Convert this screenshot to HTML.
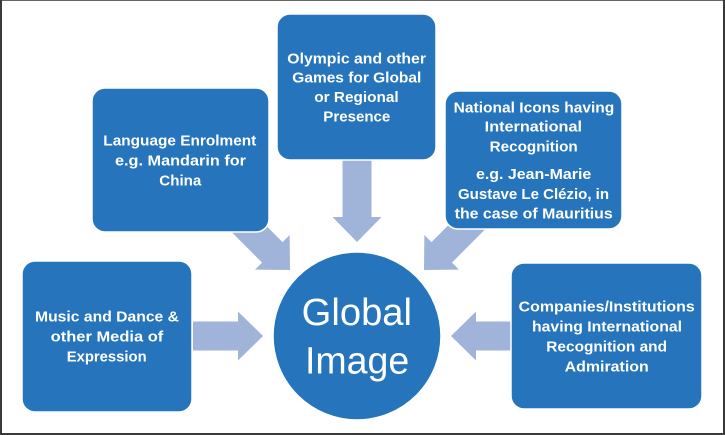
<!DOCTYPE html>
<html>
<head>
<meta charset="utf-8">
<style>
html,body{margin:0;padding:0;background:#fff;}
svg{display:block;}
text{font-family:"Liberation Sans",Arial,sans-serif;fill:#fff;}
.b{font-weight:bold;font-size:15px;}
.c{font-size:38px;}
</style>
</head>
<body>
<svg width="725" height="435" viewBox="0 0 725 435" xmlns="http://www.w3.org/2000/svg">
<rect x="0" y="0" width="725" height="435" fill="#fff"/>
<!-- frame -->
<rect x="0" y="0" width="725" height="1" fill="#666"/>
<rect x="0" y="0" width="2" height="435" fill="#3a3a3a"/>
<rect x="723" y="0" width="2" height="435" fill="#3a3a3a"/>
<rect x="0" y="433" width="725" height="2" fill="#3a3a3a"/>

<!-- arrows -->
<g fill="#a0b4da">
  <polygon transform="translate(263,336)" points="-70,-14.5 -25,-14.5 -25,-24.5 0,0 -25,24.5 -25,14.5 -70,14.5"/>
  <polygon transform="translate(451,336) rotate(180)" points="-70,-14.5 -25,-14.5 -25,-24.5 0,0 -25,24.5 -25,14.5 -70,14.5"/>
  <polygon transform="translate(357,242) rotate(90)" points="-82,-14.5 -25,-14.5 -25,-24.5 0,0 -25,24.5 -25,14.5 -82,14.5"/>
  <polygon transform="translate(290,270) rotate(45)" points="-80,-14.5 -25,-14.5 -25,-24.5 0,0 -25,24.5 -25,14.5 -80,14.5"/>
  <polygon transform="translate(424,270) rotate(135)" points="-80,-14.5 -25,-14.5 -25,-24.5 0,0 -25,24.5 -25,14.5 -80,14.5"/>
</g>

<!-- boxes -->
<g fill="#2674bc" stroke="#fff" stroke-width="1.5">
  <rect x="92" y="88" width="177" height="144" rx="13"/>
  <rect x="277" y="14" width="159" height="146" rx="13"/>
  <rect x="445" y="91" width="177" height="138" rx="13"/>
  <rect x="22" y="261" width="170" height="151" rx="13"/>
  <rect x="511" y="263" width="191" height="146" rx="13"/>
  <circle cx="357" cy="336" r="84"/>
</g>

<!-- Language box -->
<g class="b">
  <text x="103.3" y="145.7" textLength="153" lengthAdjust="spacingAndGlyphs">Language Enrolment</text>
  <text x="115" y="165.7" textLength="131" lengthAdjust="spacingAndGlyphs">e.g. Mandarin for</text>
  <text x="159.3" y="185.3" textLength="42" lengthAdjust="spacingAndGlyphs">China</text>
</g>

<!-- Olympic box -->
<g class="b">
  <text x="287.3" y="63.3" textLength="138.7" lengthAdjust="spacingAndGlyphs">Olympic and other</text>
  <text x="292.3" y="82.7" textLength="129" lengthAdjust="spacingAndGlyphs">Games for Global</text>
  <text x="314.3" y="102" textLength="84.4" lengthAdjust="spacingAndGlyphs">or Regional</text>
  <text x="323.3" y="121.7" textLength="67" lengthAdjust="spacingAndGlyphs">Presence</text>
</g>

<!-- National icons box -->
<g class="b">
  <text x="453.7" y="112.3" textLength="160.6" lengthAdjust="spacingAndGlyphs">National Icons having</text>
  <text x="484.7" y="131.7" textLength="97.3" lengthAdjust="spacingAndGlyphs">International</text>
  <text x="489.7" y="151.3" textLength="88" lengthAdjust="spacingAndGlyphs">Recognition</text>
  <text x="476" y="179" textLength="115.3" lengthAdjust="spacingAndGlyphs">e.g. Jean-Marie</text>
  <text x="458" y="199" textLength="151" lengthAdjust="spacingAndGlyphs">Gustave Le Clézio, in</text>
  <text x="454.7" y="218.3" textLength="158" lengthAdjust="spacingAndGlyphs">the case of Mauritius</text>
</g>

<!-- Music box -->
<g class="b">
  <text x="35" y="321.7" textLength="144" lengthAdjust="spacingAndGlyphs">Music and Dance &amp;</text>
  <text x="50.7" y="341.7" textLength="112.6" lengthAdjust="spacingAndGlyphs">other Media of</text>
  <text x="66.7" y="361.7" textLength="80" lengthAdjust="spacingAndGlyphs">Expression</text>
</g>

<!-- Companies box -->
<g class="b">
  <text x="518.7" y="311.7" textLength="176" lengthAdjust="spacingAndGlyphs">Companies/Institutions</text>
  <text x="532" y="331.7" textLength="150" lengthAdjust="spacingAndGlyphs">having International</text>
  <text x="546.3" y="351.7" textLength="120.7" lengthAdjust="spacingAndGlyphs">Recognition and</text>
  <text x="564.7" y="371.7" textLength="84" lengthAdjust="spacingAndGlyphs">Admiration</text>
</g>

<!-- Circle text -->
<g class="c">
  <text x="301.7" y="325" textLength="110.3" lengthAdjust="spacingAndGlyphs">Global</text>
  <text x="305" y="373.3" textLength="104.3" lengthAdjust="spacingAndGlyphs">Image</text>
</g>
</svg>
</body>
</html>
